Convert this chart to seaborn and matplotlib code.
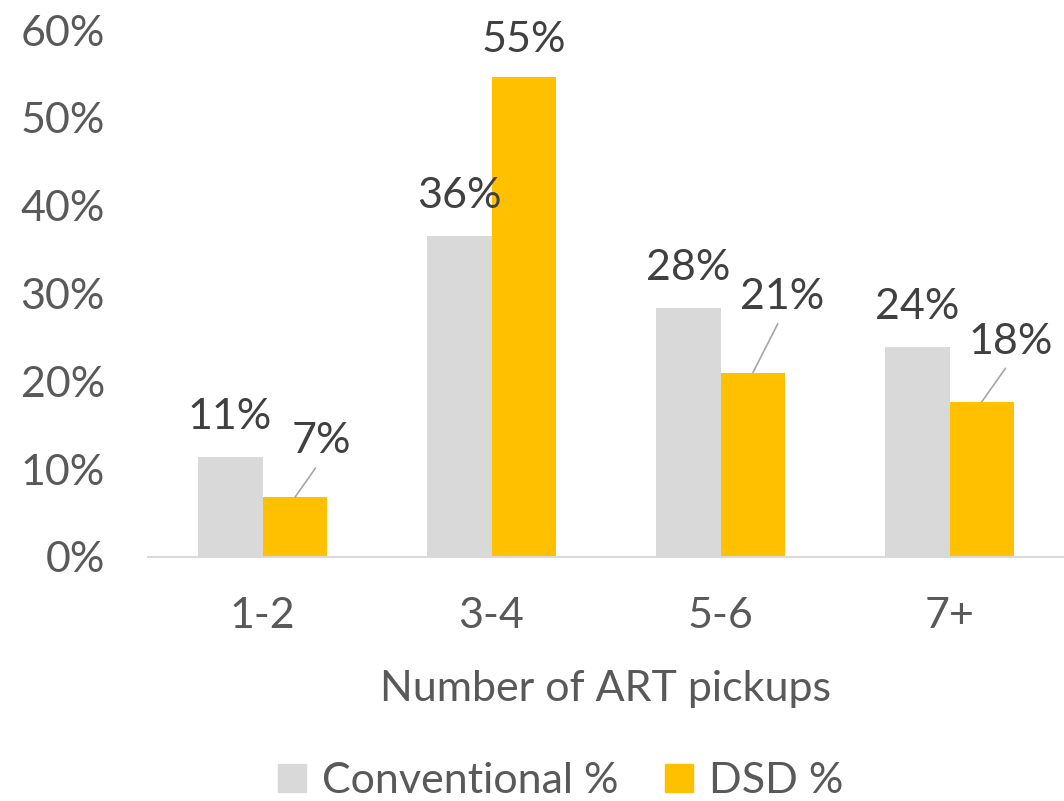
import matplotlib
matplotlib.use("Agg")
import matplotlib.pyplot as plt
import seaborn as sns
import pandas as pd

categories = ["1-2", "3-4", "5-6", "7+"]
conventional = [11.4, 36.5, 28.4, 23.9]
dsd = [6.8, 54.7, 21.0, 17.7]
series_names = ["Conventional %", "DSD %"]
yticks = [0, 10, 20, 30, 40, 50, 60]

df = pd.DataFrame({
    "cat": categories * 2,
    "series": [series_names[0]] * 4 + [series_names[1]] * 4,
    "val": conventional + dsd,
})

sns.set_style("white")
plt.rcParams["font.family"] = ["Lato", "DejaVu Sans"]
FS = 31

fig = plt.figure(figsize=(10.64, 8.01), dpi=100)
ax = fig.add_axes([148 / 1064, 1 - 557 / 801, 1 - 148 / 1064, (557 - 30) / 801])

sns.barplot(data=df, x="cat", y="val", hue="series", order=categories,
            hue_order=series_names, palette=["#d9d9d9", "#ffc000"],
            width=0.567, gap=0, ax=ax, legend=False, saturation=1,
            linewidth=0)

ax.set_ylim(0, 60)
ax.set_xlim(-0.5, 3.5)
ax.set_yticks(yticks)
ax.set_yticklabels([f"{t}%" for t in yticks])
for s in ["top", "right", "left"]:
    ax.spines[s].set_visible(False)
ax.spines["bottom"].set_color("#d9d9d9")
ax.spines["bottom"].set_linewidth(1.5)
ax.tick_params(axis="y", length=0, pad=31, labelsize=FS, labelcolor="#595959")
ax.tick_params(axis="x", length=0, pad=29, labelsize=FS, labelcolor="#595959")
ax.set_xlabel("Number of ART pickups", fontsize=FS, color="#595959", labelpad=25)
ax.set_ylabel("")

txtc = "#404040"
conv_bars = ax.containers[0]
dsd_bars = ax.containers[1]
for bar, v in zip(conv_bars, conventional):
    x = bar.get_x() + bar.get_width() / 2
    ax.annotate(f"{round(v)}%", xy=(x, v), xytext=(0, 40), textcoords="offset pixels",
                ha="center", va="center", fontsize=FS, color=txtc)

offsets = [(26, 56, True), (0, 37, False), (29, 76, True), (29, 60, True)]
for bar, v, (dx, dy, line) in zip(dsd_bars, dsd, offsets):
    x = bar.get_x() + bar.get_width() / 2
    kw = {}
    if line:
        kw["arrowprops"] = dict(arrowstyle="-", color="#a6a6a6", lw=1.2,
                                shrinkA=4, shrinkB=0, relpos=(0.5, 0.0))
    ax.annotate(f"{round(v)}%", xy=(x, v), xytext=(dx, dy), textcoords="offset pixels",
                ha="center", va="center", fontsize=FS, color=txtc, **kw)

from matplotlib.patches import Patch
handles = [Patch(color="#d9d9d9"), Patch(color="#ffc000")]
fig.legend(handles, series_names, loc="center", bbox_to_anchor=(0.527, 1 - 781 / 801),
           ncol=2, frameon=False, fontsize=FS, handlelength=0.65, handleheight=0.65,
           handletextpad=0.37, columnspacing=1.1, labelcolor="#595959")

fig.savefig("out.png", dpi=100)
